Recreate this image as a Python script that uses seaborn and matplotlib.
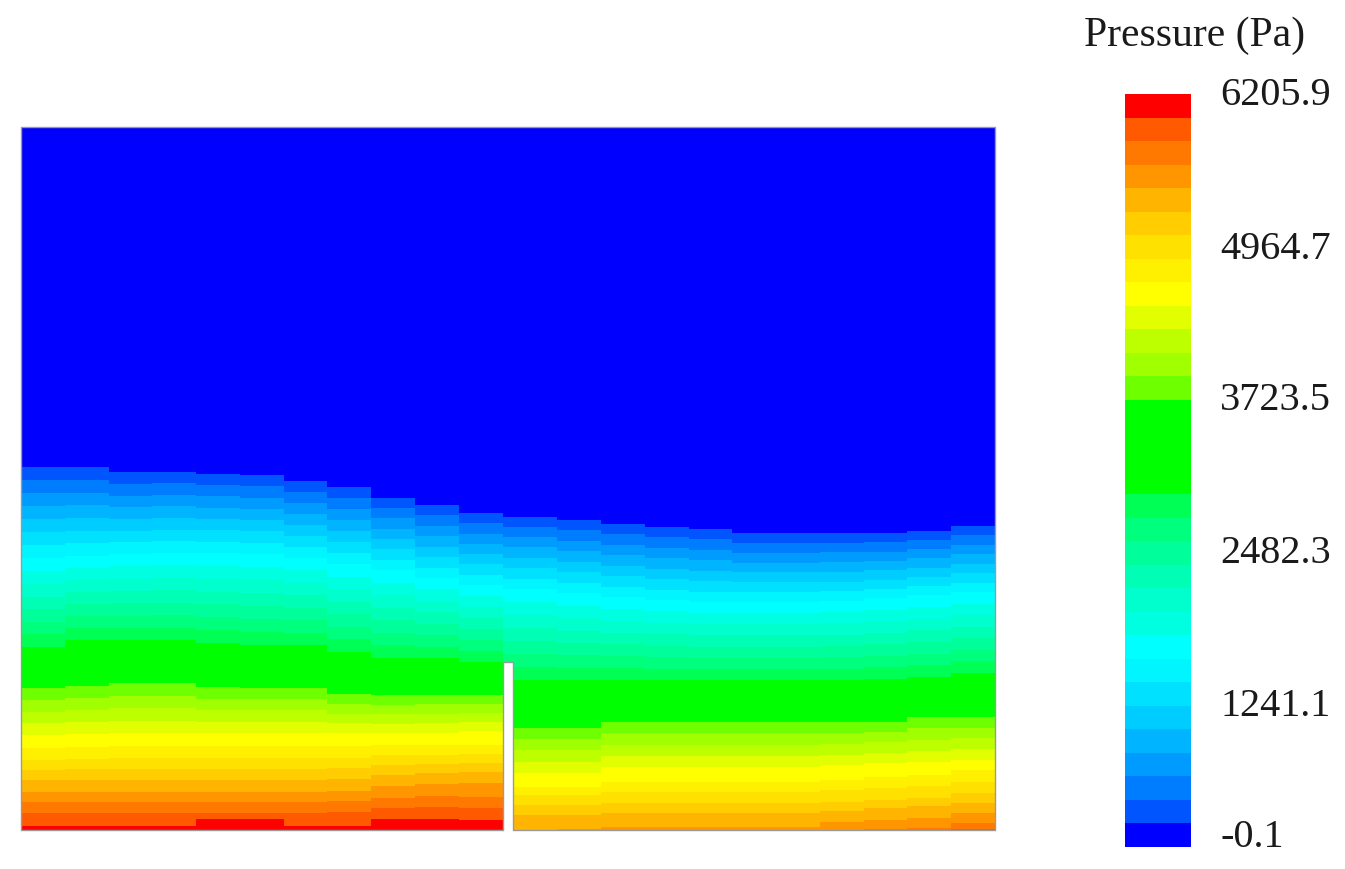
import numpy as np
import pandas as pd
import matplotlib
matplotlib.use("Agg")
import matplotlib.pyplot as plt
from matplotlib.colors import ListedColormap
import seaborn as sns

sns.set_style("white")
plt.rcParams['font.family'] = ['Liberation Serif', 'DejaVu Serif']

# --- Values ---
P_MIN = -0.1
P_MAX = 6205.9
TANK_H = 703   # mm
SLIT_H = 168   # mm

# where the legend labels sit on the pressure scale
label_values = [6193, 4925, 3676, 2415, 1158, 82]
label_texts = ["6205.9", "4964.7", "3723.5", "2482.3", "1241.1", "-0.1"]

# 32 legend bands, low to high
band_rgb = [
    (0, 0, 255), (0, 85, 255), (0, 125, 255), (0, 155, 255),
    (0, 180, 255), (0, 205, 255), (0, 225, 255), (0, 245, 255),
    (0, 255, 255), (0, 255, 225), (0, 255, 205), (0, 255, 180),
    (0, 255, 155), (0, 255, 125), (0, 255, 85), (0, 255, 0),
    (0, 255, 0), (0, 255, 0), (0, 255, 0), (110, 255, 0),
    (160, 255, 0), (190, 255, 0), (225, 255, 0), (255, 255, 0),
    (255, 240, 0), (255, 225, 0), (255, 205, 0), (255, 180, 0),
    (255, 150, 0), (255, 120, 0), (255, 90, 0), (255, 0, 0),
]

# height above the floor (mm) of each band edge, one list per station
# left of the baffle
L01 = [363,350,337,324,311,298,285,272,259,246,233,221,208,196,183,172,162,152,142,130,118,107,95,82,70,60,50,38,28,17,4]
L02 = [363,350,337,325,312,299,287,274,262,250,238,226,214,202,190,178,167,155,144,132,120,108,96,83,71,61,50,38,28,17,4]
L03 = [358,346,334,323,311,299,288,276,264,251,239,227,214,202,190,179,168,158,147,134,122,109,97,84,72,61,50,38,28,17,4]
L04 = [358,347,335,324,312,300,289,277,265,252,240,227,215,202,190,179,168,158,147,134,122,109,97,84,72,61,50,38,28,17,4]
L05 = [356,345,334,322,311,300,288,277,264,251,238,226,213,200,187,176,165,154,143,131,120,108,97,84,72,61,50,38,28,17,11]
L06 = [355,344,332,321,310,299,287,276,263,250,237,224,211,198,185,174,163,153,142,131,120,108,97,84,72,61,50,38,28,17,11]
L07 = [349,338,327,316,305,294,283,272,260,247,235,222,210,197,185,174,163,153,142,131,120,108,97,84,72,61,50,38,28,17,4]
L08 = [343,332,321,310,299,288,277,266,253,241,228,216,203,191,178,168,157,147,136,126,116,107,97,84,72,62,51,39,29,18,4]
L09 = [332,322,312,301,291,281,270,260,247,235,222,210,197,185,172,163,154,144,135,125,116,106,97,85,75,65,55,44,32,22,11]
L10 = [325,315,304,294,283,273,262,252,241,229,218,206,195,183,172,163,154,144,135,126,116,107,97,85,75,66,57,46,34,23,11]
L11 = [317,307,296,286,276,266,255,245,234,223,212,201,190,179,168,160,152,143,135,126,117,108,99,85,76,67,58,47,33,22,10]
# right of the baffle
R01 = [313,303,293,283,272,262,251,241,228,215,202,189,176,163,150,138,126,114,102,91,80,68,57,43,35,25,15,0,0,0,0]
R02 = [310,300,289,279,268,258,247,237,224,212,199,187,175,162,150,138,126,114,102,91,80,68,57,43,35,25,15,1,0,0,0]
R03 = [306,296,285,275,264,254,243,233,221,209,197,186,174,162,150,139,129,118,108,97,85,74,63,48,38,27,17,3,0,0,0]
R04 = [303,293,282,272,261,251,240,230,219,207,196,184,173,161,150,139,129,118,108,97,85,74,63,48,38,27,17,3,0,0,0]
R05 = [301,291,280,270,259,249,238,228,217,206,195,183,172,161,150,139,129,118,108,97,85,74,63,48,38,27,17,3,0,0,0]
R06 = [297,287,277,267,258,248,238,228,217,206,195,183,172,161,150,139,129,118,108,97,85,74,63,48,38,27,17,3,0,0,0]
R07 = [297,287,277,267,258,248,238,228,217,206,195,183,172,161,150,139,129,118,108,97,85,74,63,48,38,27,17,3,0,0,0]
R08 = [297,287,278,268,258,248,239,229,218,207,195,184,173,161,150,139,129,118,108,97,86,75,65,50,40,28,19,8,0,0,0]
R09 = [297,288,278,269,260,250,241,232,220,209,197,186,174,163,151,140,130,119,108,98,88,77,67,53,42,30,22,10,1,0,0]
R10 = [299,290,281,272,262,253,244,235,223,211,200,188,176,165,153,143,133,123,113,102,90,79,68,55,44,32,24,12,2,0,0]
R11 = [304,295,285,276,266,257,247,238,226,215,203,192,180,169,157,146,135,124,113,102,92,81,70,60,48,37,27,17,7,1,0]

left_stations = [L01, L02, L03, L04, L05, L06, L07, L08, L09, L10, L11]
right_stations = [R01, R02, R03, R04, R05, R06, R07, R08, R09, R10, R11]

# --- Build the field: 4 cells per station, 1 cell for the baffle ---
n_bands = len(band_rgb)
band_width = (P_MAX - P_MIN) / n_bands
heights = TANK_H - np.arange(TANK_H) - 0.5

def station_pressure(station_edges):
    band = (station_edges[None, :] > heights[:, None]).sum(axis=1)
    return P_MIN + (band + 0.5) * band_width

columns = []
for st in left_stations:
    columns += [station_pressure(np.array(st))] * 4
baffle_col = len(columns)
columns.append(station_pressure(np.array(R01)))
for st in right_stations:
    columns += [station_pressure(np.array(st))] * 4

field = pd.DataFrame(np.array(columns).T)
mask = np.zeros(field.shape, dtype=bool)
mask[heights < SLIT_H, baffle_col] = True

# --- Figure ---
W, H = 1345, 869
fig = plt.figure(figsize=(W / 100, H / 100), dpi=100)
ax = fig.add_axes([21 / W, (H - 830) / H, 974 / W, 703 / H])
cax = fig.add_axes([1125 / W, (H - 847) / H, 66 / W, 753 / H])

cmap = ListedColormap(np.array(band_rgb) / 255)
sns.heatmap(field, ax=ax, cbar_ax=cax, cmap=cmap, vmin=P_MIN, vmax=P_MAX, mask=mask,
            xticklabels=False, yticklabels=False)

cbar = ax.collections[0].colorbar
cbar.set_ticks([])
cbar.outline.set_visible(False)
for val, txt in zip(label_values, label_texts):
    cax.text((1220 - 1125) / 66, val, txt, transform=cax.get_yaxis_transform(),
             ha='left', va='center', fontsize=29, color='#1a1a1a', clip_on=False)

# tank outline, going round the baffle
ny, nx = field.shape
top = ny - SLIT_H
ax.plot([baffle_col, 0, 0, nx, nx, baffle_col + 1, baffle_col + 1, baffle_col, baffle_col],
        [ny, ny, 0, 0, ny, ny, top, top, ny],
        color='#9a9a9a', lw=1.0, clip_on=False)

fig.text(1195 / W, (H - 36) / H, "Pressure (Pa)", ha='center', va='center',
         fontsize=30, color='#1a1a1a')

fig.savefig("out.png", dpi=100)
